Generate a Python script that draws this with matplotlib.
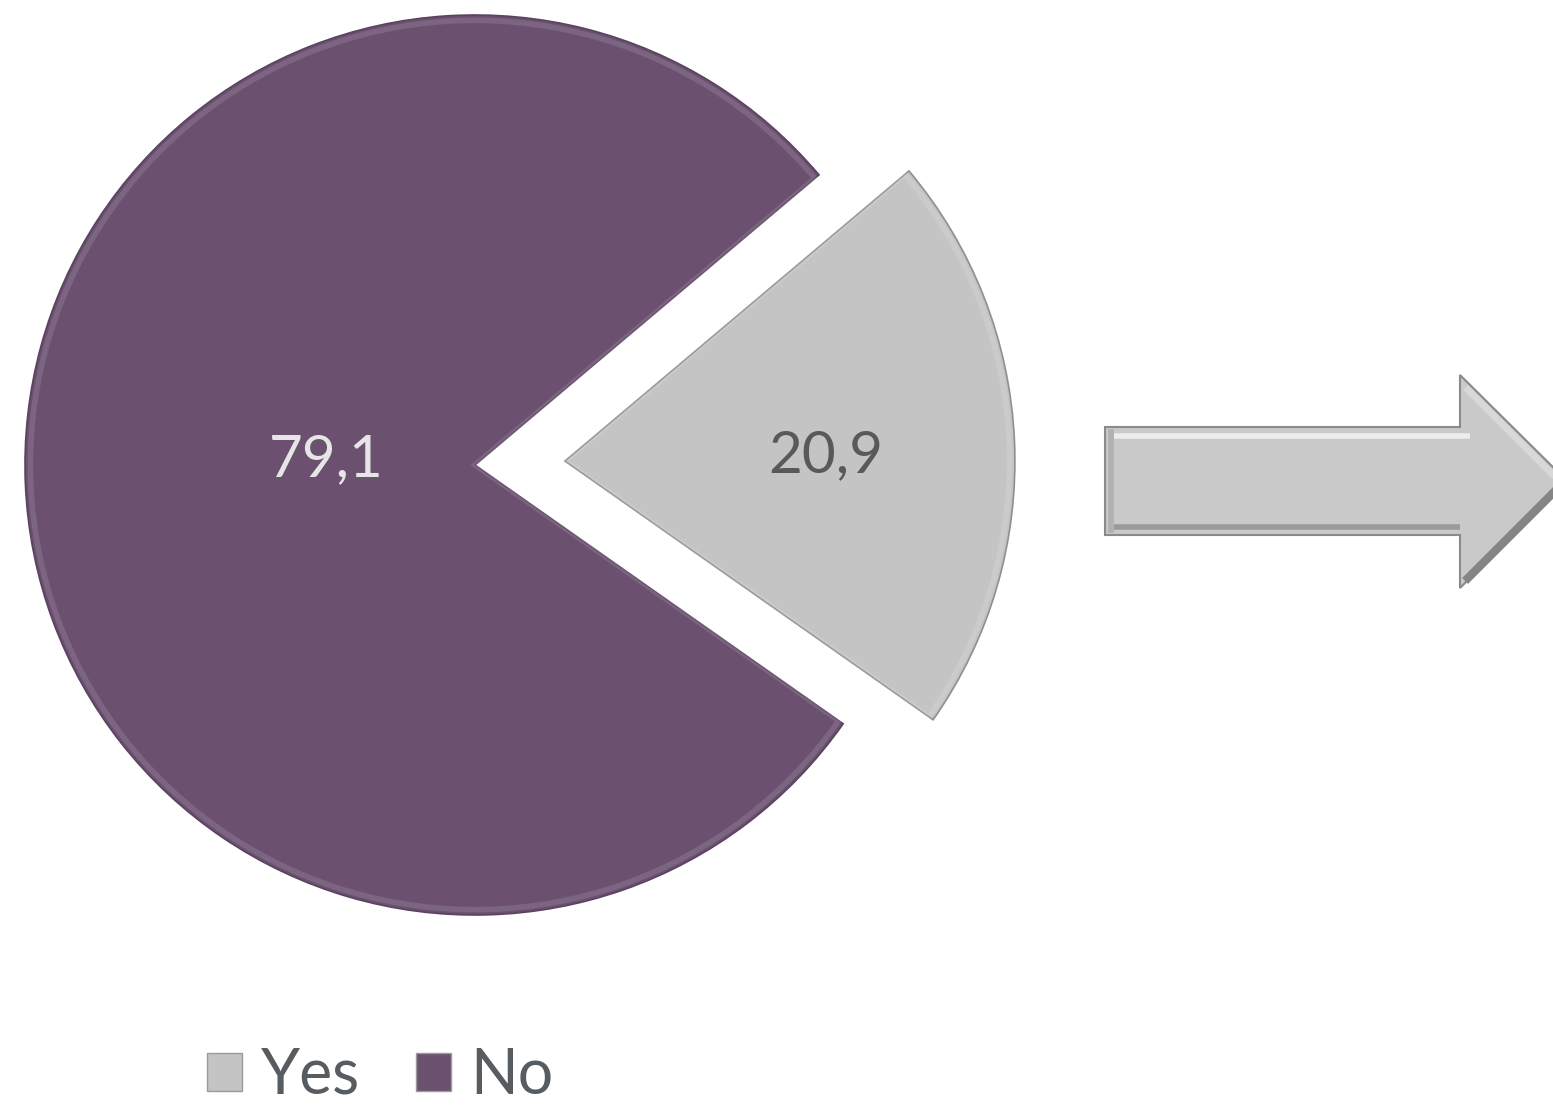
import numpy as np
import matplotlib.pyplot as plt
from matplotlib.patches import Polygon, Patch

# survey answers, in percent
categories = ["Yes", "No"]
values = [20.9, 79.1]
colors = ["#c4c4c4", "#6b5070"]
label_colors = ["#595959", "#e6e6e6"]
explode = [0.2, 0.0]
label_dist = [0.58, 0.33]

plt.rcParams['font.family'] = ['Lato', 'DejaVu Sans']

W, H = 1553, 1108
fig = plt.figure(figsize=(W / 100, H / 100), dpi=100)

# pie axes: centre at (475, 465) px, radius 450 px
cx, cy, r = 475, 465, 450
ax = fig.add_axes([(cx - r) / W, (H - cy - r) / H, 2 * r / W, 2 * r / H])
wedges, _ = ax.pie(values, colors=colors, explode=explode, startangle=-35.1,
                   counterclock=True, radius=1.0,
                   wedgeprops=dict(linewidth=1.2, edgecolor="#8f8f8f"))
wedges[1].set_edgecolor("#5a4260")

# soft bevel highlight along the rims
ax.pie(values, colors=["none", "none"], explode=explode, startangle=-35.1,
       radius=0.988, wedgeprops=dict(linewidth=4, edgecolor="#ffffff", alpha=0.12))

# value labels, kept level with the wedge centre
for w, v, d, c in zip(wedges, values, label_dist, label_colors):
    ang = np.deg2rad((w.theta1 + w.theta2) / 2)
    x0, y0 = w.center
    ax.text(x0 + d * np.cos(ang), y0 + 0.012,
            f"{v:.1f}".replace(".", ","), ha="center", va="center",
            fontsize=42, color=c)

ax.set_xlim(-1, 1)
ax.set_ylim(-1, 1)
ax.set_aspect("equal")
ax.axis("off")

# block arrow on the right
ov = fig.add_axes([0, 0, 1, 1], zorder=-1)
ov.set_xlim(0, W)
ov.set_ylim(H, 0)
ov.axis("off")
arrow = [(1105, 427), (1460, 427), (1460, 375), (1567, 481),
         (1460, 588), (1460, 535), (1105, 535)]
ov.add_patch(Polygon(arrow, closed=True, facecolor="#c9c9c9",
                     edgecolor="#8a8a8a", linewidth=1.5))
ov.plot([1114, 1470], [436, 436], color="#ececec", linewidth=4, solid_capstyle="butt")
ov.plot([1114, 1460], [527, 527], color="#9a9a9a", linewidth=4, solid_capstyle="butt")
ov.plot([1111, 1111], [432, 530], color="#b0b0b0", linewidth=4)
ov.plot([1468, 1556], [578, 490], color="#858585", linewidth=6)
ov.plot([1468, 1552], [390, 474], color="#d8d8d8", linewidth=5)

handles = [Patch(facecolor=c, edgecolor="#9a9a9a", linewidth=1) for c in colors]
fig.legend(handles, categories, loc="center", bbox_to_anchor=(380 / W, 1 - 1076 / H),
           ncol=2, frameon=False, labelcolor="#575c61",
           handlelength=0.56, handleheight=0.56, handletextpad=0.3,
           columnspacing=0.9, borderpad=0, prop=dict(family=['Lato', 'DejaVu Sans'], size=45))

fig.savefig("out.png", dpi=100, facecolor="white")
